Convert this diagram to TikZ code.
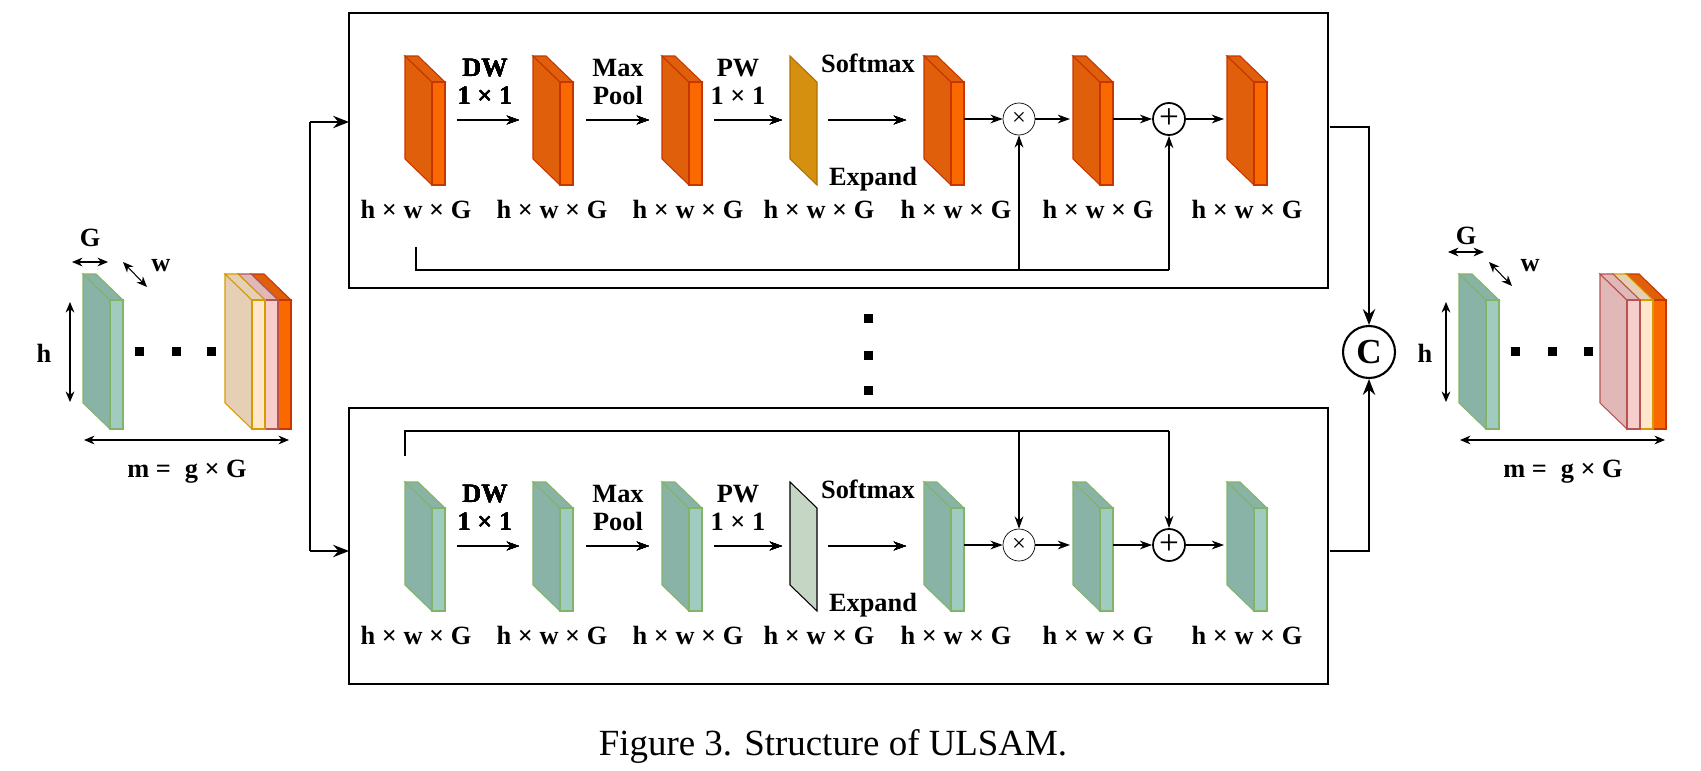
\documentclass[tikz,border=0pt]{standalone}
\usepackage{fontspec}
\setmainfont{Liberation Serif}
\usetikzlibrary{arrows.meta}
\definecolor{odark}{HTML}{E05F0A}\definecolor{olight}{HTML}{FA6800}\definecolor{oedge}{HTML}{C73500}
\definecolor{gdark}{HTML}{8AB3A7}\definecolor{glight}{HTML}{9FCBC1}\definecolor{gedge}{HTML}{82B366}
\definecolor{ydark}{HTML}{E6D0B5}\definecolor{ylight}{HTML}{FFE6CC}\definecolor{yedge}{HTML}{D79B00}
\definecolor{pdark}{HTML}{E0B8B8}\definecolor{plight}{HTML}{F8CECC}\definecolor{pedge}{HTML}{B85450}
\definecolor{smo}{HTML}{D4900E}\definecolor{smoe}{HTML}{B07000}\definecolor{smg}{HTML}{C5D6C5}
% #1 x back-left, #2 y top, #3 height of front, #4 dark #5 light #6 edge
\newcommand{\fmap}[6]{%
 \draw[draw=#6,fill=#4,line width=0.6pt] (#1,#2) -- (#1+27,#2+26) -- (#1+27,#2+26+#3) -- (#1,#2+#3) -- cycle;
 \draw[draw=#6,fill=#4,line width=0.6pt] (#1,#2) -- (#1+13,#2) -- (#1+40,#2+26) -- (#1+27,#2+26) -- cycle;
 \draw[draw=#6,fill=#5,line width=0.6pt] (#1+27,#2+26) rectangle (#1+40,#2+26+#3);}
\tikzset{x=0.02cm,y=-0.02cm,
 lab/.style={font=\fontsize{15}{17}\selectfont\bfseries,align=center},
 arr/.style={-{Stealth[length=7pt,width=5pt]},line width=0.6pt},
 barr/.style={-{Stealth[length=9pt,width=7pt]},line width=1.2pt},
 darr/.style={{Stealth[length=6pt,width=5pt]}-{Stealth[length=6pt,width=5pt]},line width=0.6pt},
 op/.style={circle,draw,minimum size=32*0.02cm,inner sep=0pt,font=\fontsize{14}{14}\selectfont},
 dot/.style={fill=black,minimum size=9*0.02cm,inner sep=0pt}}
\begin{document}
\begin{tikzpicture}
\useasboundingbox (0,0) rectangle (1701,771);
% boxes
\draw[line width=0.8pt] (349,13) rectangle (1328,288);
\draw[line width=0.8pt] (349,408) rectangle (1328,684);
% left stack
\fmap{83}{274}{129}{gdark}{glight}{gedge}
\fmap{251}{274}{129}{odark}{olight}{oedge}
\fmap{238}{274}{129}{pdark}{plight}{pedge}
\fmap{225}{274}{129}{ydark}{ylight}{yedge}
\foreach \i/\x in {1/139,2/176,3/211} \node[dot] (ld\i) at (\x,351) {};
\coordinate (lg1) at (72,262); \coordinate (lg2) at (108,262);
\draw[darr] (lg1) -- (lg2); \node[lab] (lG) at (90,238) {G};
\coordinate (lw1) at (123,262); \coordinate (lw2) at (147,287);
\draw[darr] (lw1) -- (lw2); \node[lab] (lw) at (161,266) {w};
\coordinate (lh1) at (70,302); \coordinate (lh2) at (70,402);
\draw[darr] (lh1) -- (lh2); \node[lab] (lh) at (44,353) {h};
\coordinate (lm1) at (84,440); \coordinate (lm2) at (289,440);
\draw[darr] (lm1) -- (lm2); \node[lab] (lmt) at (187,472) {m =\; g × G};
% right stack
\fmap{1459}{274}{129}{gdark}{glight}{gedge}
\fmap{1626}{274}{129}{odark}{olight}{oedge}
\fmap{1613}{274}{129}{ydark}{ylight}{yedge}
\fmap{1600}{274}{129}{pdark}{plight}{pedge}
\foreach \i/\x in {1/1515,2/1552,3/1588} \node[dot] (rd\i) at (\x,351) {};
\coordinate (rg1) at (1448,252); \coordinate (rg2) at (1484,252);
\draw[darr] (rg1) -- (rg2); \node[lab] (rG) at (1466,236) {G};
\coordinate (rw1) at (1489,262); \coordinate (rw2) at (1512,286);
\draw[darr] (rw1) -- (rw2); \node[lab] (rw) at (1530,266) {w};
\coordinate (rh1) at (1446,302); \coordinate (rh2) at (1446,402);
\draw[darr] (rh1) -- (rh2); \node[lab] (rh) at (1425,353) {h};
\coordinate (rm1) at (1460,440); \coordinate (rm2) at (1665,440);
\draw[darr] (rm1) -- (rm2); \node[lab] (rmt) at (1563,472) {m =\; g × G};
% vertical dots
\foreach \i/\y in {1/318,2/355,3/390} \node[dot] (vd\i) at (868,\y) {};
% rows
\foreach \r/\dy/\dk/\lt/\ed in {t/0/odark/olight/oedge, b/426/gdark/glight/gedge}{
 \foreach \x in {405,533,662,924,1073,1227} \fmap{\x}{56+\dy}{103}{\dk}{\lt}{\ed}
 \foreach \xa/\xb/\n in {457/519/1,586/649/2,714/782/3,828/906/4}{
  \coordinate (\r a\n) at (\xa,120+\dy); \coordinate (\r b\n) at (\xb,120+\dy);
  \draw[arr] (\r a\n) -- (\r b\n);}
 \node[lab] (\r dw) at (485,82+\dy) {DW\\[-1pt]1 × 1};
 \node[lab] (\r mp) at (618,82+\dy) {Max\\[-1pt]Pool};
 \node[lab] (\r pw) at (738,82+\dy) {PW\\[-1pt]1 × 1};
 \node[lab] (\r sm) at (868,63+\dy) {Softmax};
 \node[lab] (\r ex) at (873,179+\dy) {Expand};
 \foreach \x/\n in {416/1,552/2,688/3,819/4,956/5,1098/6,1247/7}
  \node[lab] (\r d\n) at (\x,209+\dy) {h × w × G};
 \node[op] (\r m) at (1019,119+\dy) {×};
 \node[op,line width=1pt] (\r p) at (1169,119+\dy) {\fontsize{20}{20}\selectfont +};
 \coordinate (\r o5) at (964,119+\dy); \coordinate (\r i6) at (1070,119+\dy);
 \coordinate (\r o6) at (1113,119+\dy); \coordinate (\r i7) at (1224,119+\dy);
 \draw[arr] (\r o5) -- (\r m); \draw[arr] (\r m) -- (\r i6);
 \draw[arr] (\r o6) -- (\r p); \draw[arr] (\r p) -- (\r i7);
}
\draw[draw=smoe,fill=smo,line width=0.6pt] (790,56) -- (817,82) -- (817,185) -- (790,159) -- cycle;
\draw[draw=black,fill=smg,line width=0.6pt] (790,482) -- (817,508) -- (817,611) -- (790,585) -- cycle;
% skip connections
\coordinate (ts0) at (416,247); \coordinate (ts1) at (416,270);
\coordinate (tsm) at (1019,270); \coordinate (tsp) at (1169,270);
\draw[line width=0.6pt] (ts0) -- (ts1) -- (tsp);
\draw[arr] (tsm) -- (tm); \draw[arr] (tsp) -- (tp);
\coordinate (bs0) at (405,456); \coordinate (bs1) at (405,431);
\coordinate (bsm) at (1019,431); \coordinate (bsp) at (1169,431);
\draw[line width=0.6pt] (bs0) -- (bs1) -- (bsp);
\draw[arr] (bsm) -- (bm); \draw[arr] (bsp) -- (bp);
% concat
\node[op,line width=1.2pt,minimum size=52*0.02cm,font=\fontsize{20}{20}\selectfont\bfseries] (C) at (1369,352) {C};
\coordinate (to) at (1330,127); \coordinate (tc) at (1369,127);
\coordinate (bo) at (1330,551); \coordinate (bc) at (1369,551);
\draw[barr] (to) -- (tc) -- (C); \draw[barr] (bo) -- (bc) -- (C);
% split
\coordinate (s0) at (310,122); \coordinate (s1) at (310,551);
\coordinate (e0) at (349,122); \coordinate (e1) at (349,551);
\draw[line width=1.2pt] (s0) -- (s1);
\draw[barr] (s0) -- (e0); \draw[barr] (s1) -- (e1);
\node[font=\fontsize{21}{24}\selectfont] (cap) at (833,746) {Figure 3. Structure of ULSAM.};
\end{tikzpicture}
\end{document}
